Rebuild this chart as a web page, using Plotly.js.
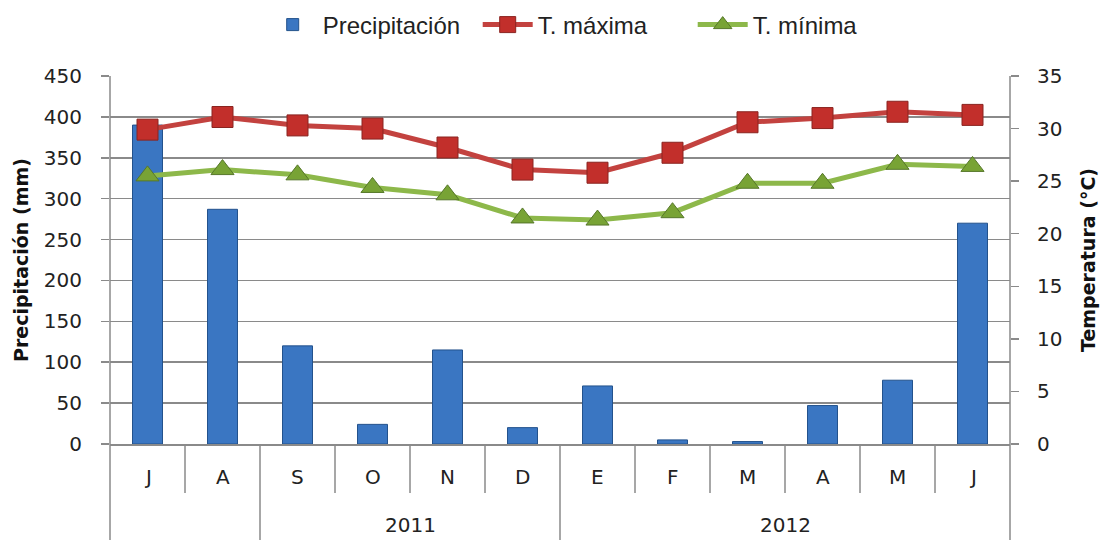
<!DOCTYPE html>
<html><head><meta charset="utf-8">
<script src="https://cdn.plot.ly/plotly-3.0.1.min.js"></script>
<style>html,body{margin:0;padding:0;background:#fff}#chart{width:1101px;height:540px}</style>
</head><body><div id="chart"></div>
<script>
// ---- data ----
const months = ['J','A','S','O','N','D','E','F','M','A','M','J'];
const groupLabels = ['', '2011', '2012'];
const groupSizes = [2, 4, 6];
const precip = [390, 287, 120, 24, 115, 20, 71, 5, 3, 47, 78, 270];
const tmax = [29.9, 31.1, 30.3, 30.0, 28.2, 26.1, 25.8, 27.7, 30.6, 31.0, 31.6, 31.3];
const tmin = [25.5, 26.1, 25.6, 24.4, 23.7, 21.5, 21.3, 22.0, 24.8, 24.8, 26.6, 26.4];

// ---- layout helpers ----
const W = 1101, H = 540, mt = 76, mb = 96, ml = 110, mr = 91;
const plotH = H - mt - mb;
const py = px => (H - mb - px) / plotH;   // pixel row -> paper y
const idx = months.map((_, i) => i);
const grey = '#8a8a8a';
const tickFont = {family: 'DejaVu Sans, Verdana, sans-serif', size: 20, color: '#222'};
const titleFont = {family: 'DejaVu Sans, Verdana, sans-serif', size: 19, color: '#111', weight: 'bold'};

const traces = [
  {type: 'bar', name: 'Precipitación', x: idx, y: precip, width: 0.4,
   marker: {color: '#3a76c2', line: {color: '#23528c', width: 1}}, yaxis: 'y'},
  {type: 'scatter', mode: 'lines+markers', name: 'T. máxima', x: idx, y: tmax, yaxis: 'y2',
   line: {color: '#c3423f', width: 5},
   marker: {symbol: 'square', size: 21, color: '#c22f2b', line: {color: '#8a2420', width: 1}}},
  {type: 'scatter', mode: 'lines+markers', name: 'T. mínima', x: idx, y: tmin, yaxis: 'y2',
   line: {color: '#8db84a', width: 5},
   marker: {symbol: 'triangle-up', size: 20, color: '#78a335', line: {color: '#56772a', width: 1}}}
];

const shapes = [];
const annotations = [];
const boundaries = [];
let acc = 0;
groupSizes.forEach(s => { acc += s; boundaries.push(acc); });
for (let i = 1; i < months.length; i++) {
  const isGroup = boundaries.includes(i);
  shapes.push({type: 'line', xref: 'x', yref: 'paper', x0: i - 0.5, x1: i - 0.5,
    y0: 0, y1: isGroup ? py(H) : py(493), line: {color: grey, width: 1.5}});
}
[0, 1].forEach(xp => shapes.push({type: 'line', xref: 'paper', yref: 'paper', x0: xp, x1: xp,
  y0: py(H), y1: 1, line: {color: grey, width: 1.5}}));
months.forEach((m, i) => annotations.push({xref: 'x', yref: 'paper', x: i, y: py(477),
  text: m, showarrow: false, font: tickFont, xanchor: 'center', yanchor: 'middle'}));
let start = 0;
groupSizes.forEach((s, g) => {
  if (groupLabels[g]) annotations.push({xref: 'x', yref: 'paper', x: start + (s - 1) / 2, y: py(525),
    text: groupLabels[g], showarrow: false, font: tickFont, xanchor: 'center', yanchor: 'middle'});
  start += s;
});

const layout = {
  width: W, height: H,
  margin: {l: ml, r: mr, t: mt, b: mb, pad: 0, autoexpand: false},
  paper_bgcolor: '#fff', plot_bgcolor: '#fff',
  showlegend: true,
  legend: {orientation: 'h', x: 0.528, xanchor: 'center', y: py(25), yanchor: 'middle',
    font: {family: 'Liberation Sans, Arial, sans-serif', size: 24, color: '#222'},
    itemwidth: 50, entrywidth: 150, traceorder: 'normal'},
  xaxis: {range: [-0.5, months.length - 0.5], showticklabels: false, ticks: '',
    showgrid: false, zeroline: false, showline: true, linecolor: grey, linewidth: 1.5, fixedrange: true},
  yaxis: {range: [0, 450], dtick: 50, tick0: 0, showgrid: true, gridcolor: grey, gridwidth: 1.5,
    zeroline: false, showline: false, ticks: 'outside', ticklen: 8, tickcolor: grey, tickwidth: 1.5,
    tickfont: tickFont, ticklabelstandoff: 15,
    title: {text: 'Precipitación (mm)', standoff: 10, font: titleFont}},
  yaxis2: {range: [0, 35], dtick: 5, tick0: 0, overlaying: 'y', side: 'right', showgrid: false,
    zeroline: false, showline: false, ticks: 'outside', ticklen: 8, tickcolor: grey, tickwidth: 1.5,
    tickfont: tickFont, ticklabelstandoff: 14,
    title: {text: 'Temperatura (°C)', standoff: 20, font: titleFont}},
  shapes: shapes,
  annotations: annotations
};

Plotly.newPlot('chart', traces, layout, {displayModeBar: false, staticPlot: true});
</script></body></html>
